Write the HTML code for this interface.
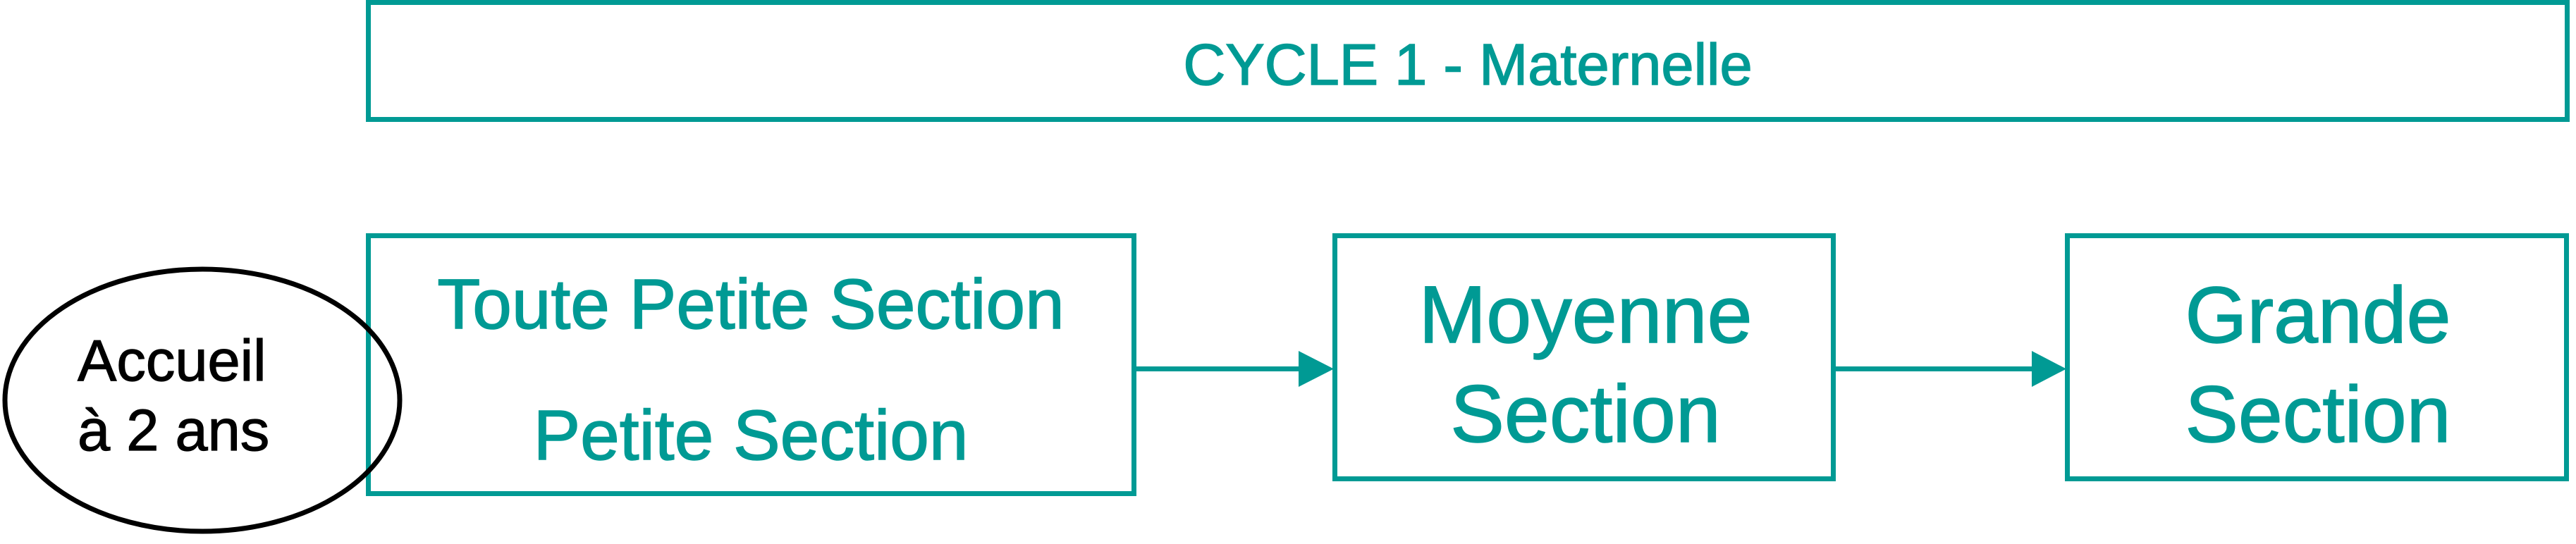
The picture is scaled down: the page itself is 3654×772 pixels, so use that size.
<!DOCTYPE html>
<html>
<head>
<meta charset="utf-8">
<style>
  html, body { margin: 0; padding: 0; background: #ffffff; }
  body { width: 3654px; height: 772px; overflow: hidden; }
  svg { display: block; }
  text { font-family: "Liberation Sans", Arial, sans-serif; }
  .t { fill: #009a94; stroke: #009a94; stroke-width: 1.5; }
  .k { fill: #000000; stroke: #000000; stroke-width: 1.2; }
</style>
</head>
<body>
<svg width="3654" height="772" viewBox="0 0 3654 772" xmlns="http://www.w3.org/2000/svg">
  <rect x="0" y="0" width="3654" height="772" fill="#ffffff"/>

  <!-- Top banner -->
  <rect x="522.5" y="3.5" width="3119" height="166" fill="none" stroke="#009a94" stroke-width="7"/>
  <text class="t" x="2082" y="120" font-size="83" text-anchor="middle">CYCLE 1 - Maternelle</text>

  <!-- Box 1 -->
  <rect x="522.5" y="334.5" width="1086" height="366" fill="none" stroke="#009a94" stroke-width="7"/>
  <text class="t" x="1065" y="466" font-size="100" text-anchor="middle">Toute Petite Section</text>
  <text class="t" x="1065" y="652" font-size="100" text-anchor="middle">Petite Section</text>

  <!-- Arrow 1 -->
  <line x1="1612" y1="523.5" x2="1845" y2="523.5" stroke="#009a94" stroke-width="7"/>
  <polygon points="1842,498 1892,523.5 1842,549" fill="#009a94"/>

  <!-- Box 2 -->
  <rect x="1893.5" y="334.5" width="707" height="345" fill="none" stroke="#009a94" stroke-width="7"/>
  <text class="t" x="2249" y="486" font-size="115" text-anchor="middle">Moyenne</text>
  <text class="t" x="2249" y="627" font-size="115" text-anchor="middle">Section</text>

  <!-- Arrow 2 -->
  <line x1="2604" y1="523.5" x2="2885" y2="523.5" stroke="#009a94" stroke-width="7"/>
  <polygon points="2882,498 2931,523.5 2882,549" fill="#009a94"/>

  <!-- Box 3 -->
  <rect x="2932.5" y="334.5" width="708" height="345" fill="none" stroke="#009a94" stroke-width="7"/>
  <text class="t" x="3288" y="486" font-size="113" text-anchor="middle">Grande</text>
  <text class="t" x="3288" y="627" font-size="113" text-anchor="middle">Section</text>

  <!-- Ellipse -->
  <ellipse cx="287" cy="568" rx="280" ry="186" fill="none" stroke="#000000" stroke-width="7"/>
  <text class="k" x="110" y="540" font-size="83">Accueil</text>
  <text class="k" x="110" y="639" font-size="83">à 2 ans</text>
</svg>
</body>
</html>
